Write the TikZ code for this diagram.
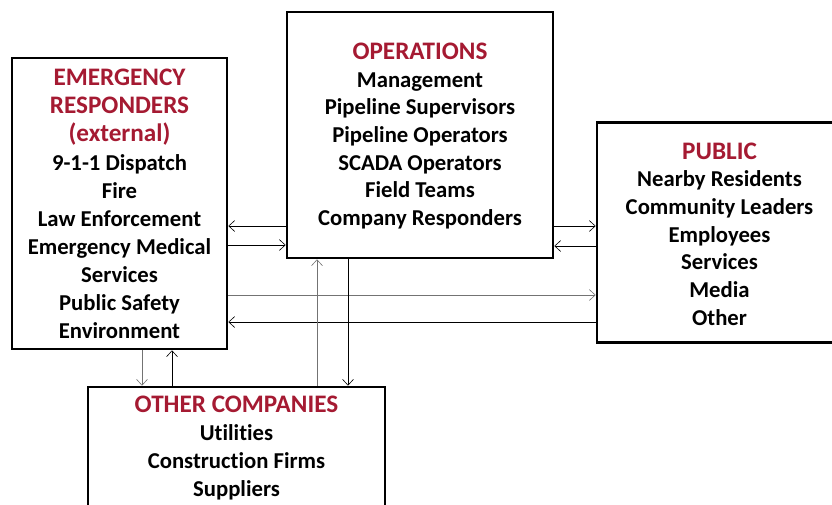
\documentclass[tikz,border=0pt]{standalone}
\usepackage{fontspec}
\setmainfont{Carlito}[Ligatures=NoCommon]
\usetikzlibrary{arrows.meta}
\definecolor{titlered}{RGB}{165,26,50}
\tikzset{
  box/.style={draw=black, line width=2.6pt, fill=white, rectangle, inner sep=0pt},
  txt/.style={align=center, inner sep=0pt, font=\fontsize{22.7}{27.7}\selectfont\bfseries},
  conn/.style={line width=0.8pt, -{Straight Barb[length=6pt,width=11pt,line width=0.6pt]}},
  gconn/.style={conn, draw=black!55},
}
\newcommand{\ttl}[1]{{\fontsize{25.2}{27.7}\selectfont\color{titlered}#1}}
\begin{document}
\begin{tikzpicture}[x=1pt,y=-1pt]
\useasboundingbox (0,0) rectangle (832,504);
\clip (0,0) rectangle (832,504);
\fill[white] (0,0) rectangle (832,504);
% boxes
\node[box, minimum width=215pt, minimum height=291pt] (er) at (119.5,203.5) {};
\node[box, minimum width=266pt, minimum height=246pt] (ops) at (420,135) {};
\node[box, minimum width=250pt, minimum height=220pt] (pub) at (722,232.5) {};
\node[box, minimum width=297pt, minimum height=140pt] (oth) at (236.5,457) {};
% texts
\node[txt, font=\fontsize{22.7}{28.1}\selectfont\bfseries] (ertxt) at (119.5,204) {\ttl{EMERGENCY}\\\ttl{RESPONDERS}\\\ttl{(external)}\\9-1-1 Dispatch\\Fire\\Law Enforcement\\Emergency Medical\\Services\\Public Safety\\Environment};
\node[txt] (opstxt) at (420,136) {\ttl{OPERATIONS}\\Management\\Pipeline Supervisors\\Pipeline Operators\\SCADA Operators\\Field Teams\\Company Responders};
\node[txt] (pubtxt) at (719.5,234) {\ttl{PUBLIC}\\Nearby Residents\\Community Leaders\\Employees\\Services\\Media\\Other};
\node[txt, font=\fontsize{22.7}{28}\selectfont\bfseries] (othtxt) at (236.5,448) {\ttl{OTHER COMPANIES}\\Utilities\\Construction Firms\\Suppliers};
% connectors ER <-> OPS
\draw[conn] (ops.west |- {0,226}) -- (er.east |- {0,226});
\draw[conn] (er.east |- {0,245}) -- (ops.west |- {0,245});
% OPS <-> PUBLIC
\draw[conn] (ops.east |- {0,226}) -- (pub.west |- {0,226});
\draw[conn] (pub.west |- {0,246}) -- (ops.east |- {0,246});
% ER <-> PUBLIC
\draw[gconn] (er.east |- {0,295}) -- (pub.west |- {0,295});
\draw[conn] (pub.west |- {0,322}) -- (er.east |- {0,322});
% ER <-> OTHER
\draw[gconn] (er.south -| {142,0}) -- (oth.north -| {142,0});
\draw[conn] (oth.north -| {172,0}) -- (er.south -| {172,0});
% OPS <-> OTHER
\draw[gconn] (oth.north -| {317,0}) -- (ops.south -| {317,0});
\draw[conn] (ops.south -| {348,0}) -- (oth.north -| {348,0});
\end{tikzpicture}
\end{document}
